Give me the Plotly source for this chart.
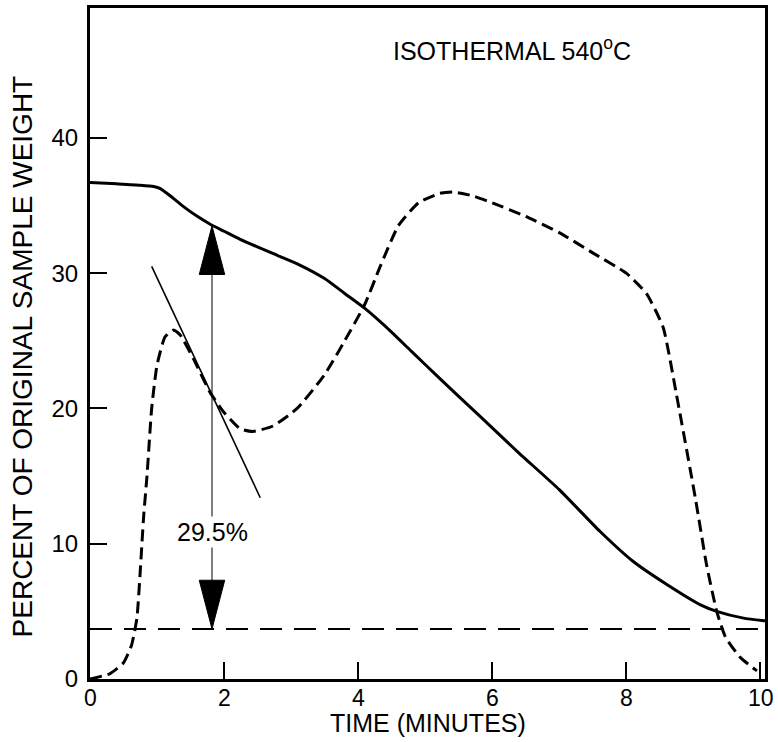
import plotly.graph_objects as go

# ---- data ----
solid_x = [0, 0.4, 0.75, 0.95, 1.05, 1.2, 1.4, 1.6, 1.8, 2.0, 2.24, 2.8, 3.13, 3.5, 3.8, 4.1, 4.4, 4.8, 5.22, 5.8, 6.4, 7.0, 7.61, 8.1, 8.6, 9.1, 9.35, 9.75, 10.07]
solid_y = [36.7, 36.6, 36.5, 36.4, 36.25, 35.7, 34.9, 34.2, 33.6, 33.1, 32.5, 31.3, 30.6, 29.6, 28.5, 27.4, 26.1, 24.2, 22.2, 19.5, 16.7, 14.0, 10.9, 8.7, 7.0, 5.5, 5.0, 4.5, 4.3]

dash_x = [0, 0.3, 0.5, 0.62, 0.7, 0.75, 0.8, 0.85, 0.92, 1.0, 1.12, 1.25, 1.35, 1.54, 1.79, 2.0, 2.24, 2.43, 2.73, 3.09, 3.5, 3.8, 4.1, 4.33, 4.6, 4.9, 5.22, 5.42, 5.72, 6.0, 6.5, 7.0, 7.5, 8.0, 8.3, 8.55, 8.75, 9.03, 9.2, 9.35, 9.48, 9.7, 9.95]
dash_y = [0, 0.4, 1.2, 2.5, 4.5, 8.0, 12.0, 15.0, 20.0, 23.2, 25.3, 25.8, 25.4, 23.7, 21.2, 19.7, 18.5, 18.3, 18.7, 20.0, 22.5, 25.0, 27.7, 30.5, 33.5, 35.2, 35.9, 36.0, 35.7, 35.2, 34.2, 33.0, 31.5, 30.0, 28.5, 26.0, 21.0, 13.4, 8.4, 5.0, 3.1, 1.6, 0.6]

baseline_y = 3.7
tangent_x = [0.92, 2.54]
tangent_y = [30.5, 13.4]

arrow_x = 1.82
arrow_top = 33.5
arrow_bottom = baseline_y
arrow_label = "29.5%"
arrow_label_y = 10.9

x_ticks = [0, 2, 4, 6, 8, 10]
x_tick_labels = ["0", "2", "4", "6", "8", "10"]
y_ticks = [0, 10, 20, 30, 40]
y_tick_labels = ["0", "10", "20", "30", "40"]
title_text = "ISOTHERMAL 540<sup>o</sup>C"
x_title = "TIME (MINUTES)"
y_title = "PERCENT OF ORIGINAL SAMPLE WEIGHT"

# ---- figure ----
X_MAX = 10.07
Y_MAX = 49.6
head_len = 3.6    # data units
head_half = 0.19  # data units
FONT = "Liberation Sans, Arial, Helvetica"

fig = go.Figure()

fig.add_trace(go.Scatter(x=solid_x, y=solid_y, mode="lines",
                         line=dict(color="black", width=3, shape="spline", smoothing=0.5),
                         hoverinfo="skip"))
fig.add_trace(go.Scatter(x=dash_x, y=dash_y, mode="lines",
                         line=dict(color="black", width=3, dash="12px,6px", shape="spline", smoothing=0.5),
                         hoverinfo="skip"))
fig.add_trace(go.Scatter(x=[0, X_MAX], y=[baseline_y, baseline_y], mode="lines",
                         line=dict(color="black", width=2, dash="22px,12px"),
                         hoverinfo="skip"))
fig.add_trace(go.Scatter(x=tangent_x, y=tangent_y, mode="lines",
                         line=dict(color="black", width=1.6), hoverinfo="skip"))
fig.add_trace(go.Scatter(x=[arrow_x, arrow_x], y=[arrow_bottom + head_len, arrow_top - head_len],
                         mode="lines", line=dict(color="black", width=1), hoverinfo="skip"))
fig.add_trace(go.Scatter(x=[arrow_x - head_half, arrow_x, arrow_x + head_half, arrow_x - head_half],
                         y=[arrow_top - head_len, arrow_top, arrow_top - head_len, arrow_top - head_len],
                         mode="lines", fill="toself", fillcolor="black",
                         line=dict(color="black", width=1), hoverinfo="skip"))
fig.add_trace(go.Scatter(x=[arrow_x - head_half, arrow_x, arrow_x + head_half, arrow_x - head_half],
                         y=[arrow_bottom + head_len, arrow_bottom, arrow_bottom + head_len, arrow_bottom + head_len],
                         mode="lines", fill="toself", fillcolor="black",
                         line=dict(color="black", width=1), hoverinfo="skip"))

fig.add_annotation(x=arrow_x, y=arrow_label_y, text=arrow_label, showarrow=False,
                   bgcolor="white", borderpad=1,
                   font=dict(family=FONT, size=25, color="black"))
fig.add_annotation(x=6.3, y=46.6, text=title_text, showarrow=False, xanchor="center",
                   font=dict(family=FONT, size=25, color="black"))

# x tick labels (placed on the x scale, tighter to the axis than plotly's default)
for v, t in zip(x_ticks, x_tick_labels):
    fig.add_annotation(x=v, xref="x", y=0, yref="paper", yanchor="top", yshift=-5,
                       text=t, showarrow=False, borderpad=0,
                       xanchor="right" if v == x_ticks[-1] else "center",
                       xshift=15 if v == x_ticks[-1] else 0,
                       font=dict(family=FONT, size=23, color="black"))

# axis titles placed as paper annotations
fig.add_annotation(xref="paper", yref="paper", x=0.5, y=-0.065, yanchor="middle",
                   text=x_title, showarrow=False, borderpad=0,
                   font=dict(family=FONT, size=25, color="black"))
fig.add_annotation(xref="paper", yref="paper", x=-0.1, y=0.48, xanchor="center", yanchor="middle",
                   textangle=-90, text=y_title, showarrow=False,
                   font=dict(family=FONT, size=28, color="black"))

fig.update_xaxes(range=[0, X_MAX], tickvals=x_ticks, showticklabels=False,
                 ticks="inside", ticklen=17, tickwidth=2, tickcolor="black",
                 showline=True, linecolor="black", linewidth=3, mirror=True,
                 showgrid=False, zeroline=False)
fig.update_yaxes(range=[0, Y_MAX], tickvals=y_ticks, ticktext=y_tick_labels,
                 ticks="inside", ticklen=17, tickwidth=2, tickcolor="black",
                 showline=True, linecolor="black", linewidth=3, mirror=True,
                 showgrid=False, zeroline=False, ticklabelstandoff=4,
                 tickfont=dict(family=FONT, size=24, color="black"))

fig.update_layout(width=778, height=742, showlegend=False,
                  plot_bgcolor="white", paper_bgcolor="white",
                  margin=dict(l=90, r=13, t=5, b=63))

# remove the browser's default body margin so the figure fills the window exactly
fig.write_html("out.html", config={"displayModeBar": False},
               post_script="document.body.style.margin='0';")
